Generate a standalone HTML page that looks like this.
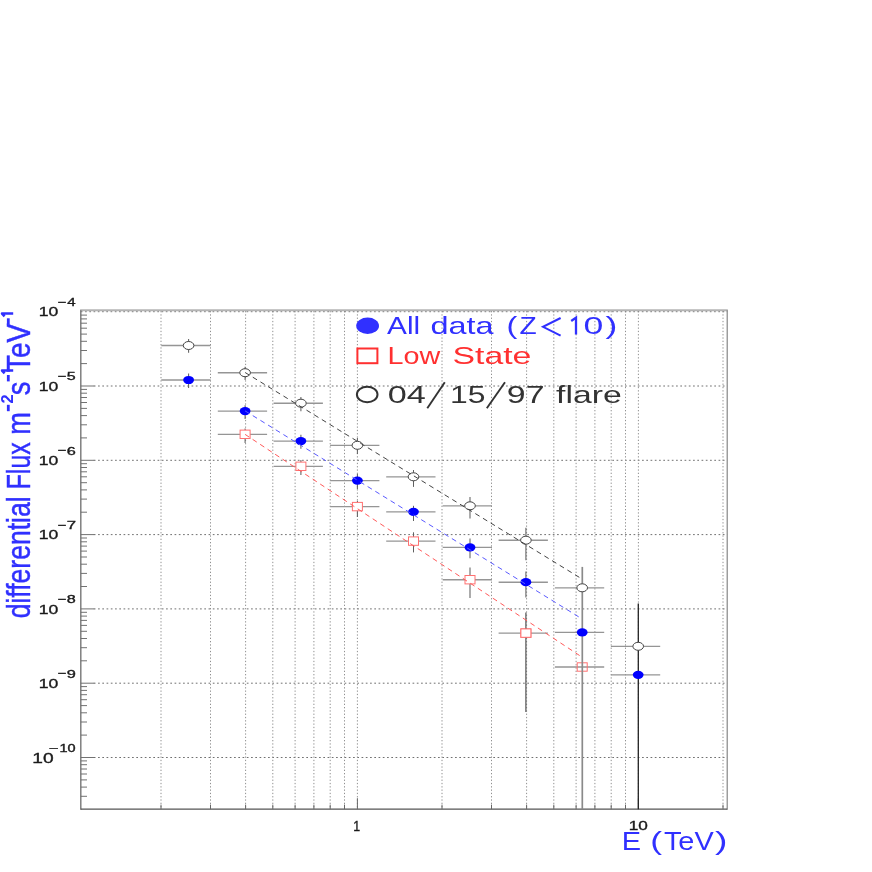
<!DOCTYPE html>
<html><head><meta charset="utf-8"><title>Differential Flux</title>
<style>
html,body{margin:0;padding:0;background:#fff;}
body{width:872px;height:872px;overflow:hidden;font-family:"Liberation Sans",sans-serif;}
svg{display:block;}
text{font-family:"Liberation Sans",sans-serif;}
</style></head><body>
<svg width="872" height="872" viewBox="0 0 872 872" style="will-change:transform">
<rect x="0" y="0" width="872" height="872" fill="#ffffff"/>

<g stroke="#606060" stroke-width="0.9" stroke-dasharray="1.7 2.55" fill="none">
<line x1="93.8" y1="386.0" x2="727.2" y2="386.0"/>
<line x1="93.8" y1="460.3" x2="727.2" y2="460.3"/>
<line x1="93.8" y1="534.6" x2="727.2" y2="534.6"/>
<line x1="93.8" y1="608.9" x2="727.2" y2="608.9"/>
<line x1="93.8" y1="683.2" x2="727.2" y2="683.2"/>
<line x1="93.8" y1="757.5" x2="727.2" y2="757.5"/>
</g>
<g stroke="#909090" stroke-width="1" stroke-dasharray="1.3 2" fill="none">
<line x1="161.0" y1="311.0" x2="161.0" y2="809.2"/>
<line x1="210.5" y1="311.0" x2="210.5" y2="809.2"/>
<line x1="245.6" y1="311.0" x2="245.6" y2="809.2"/>
<line x1="272.8" y1="311.0" x2="272.8" y2="809.2"/>
<line x1="295.1" y1="311.0" x2="295.1" y2="809.2"/>
<line x1="313.9" y1="311.0" x2="313.9" y2="809.2"/>
<line x1="330.2" y1="311.0" x2="330.2" y2="809.2"/>
<line x1="344.5" y1="311.0" x2="344.5" y2="809.2"/>
<line x1="357.4" y1="311.0" x2="357.4" y2="809.2"/>
<line x1="442.0" y1="311.0" x2="442.0" y2="809.2"/>
<line x1="491.5" y1="311.0" x2="491.5" y2="809.2"/>
<line x1="526.6" y1="311.0" x2="526.6" y2="809.2"/>
<line x1="553.8" y1="311.0" x2="553.8" y2="809.2"/>
<line x1="576.1" y1="311.0" x2="576.1" y2="809.2"/>
<line x1="594.9" y1="311.0" x2="594.9" y2="809.2"/>
<line x1="611.2" y1="311.0" x2="611.2" y2="809.2"/>
<line x1="625.5" y1="311.0" x2="625.5" y2="809.2"/>
<line x1="638.4" y1="311.0" x2="638.4" y2="809.2"/>
<line x1="723.0" y1="311.0" x2="723.0" y2="809.2"/>
</g>
<line x1="80.8" y1="311.7" x2="727.2" y2="311.7" stroke="#777" stroke-width="1" stroke-dasharray="1.7 2.55"/>
<g fill="none">
<line x1="80.1" y1="310.25" x2="727.8000000000001" y2="310.25" stroke="#b4b4b4" stroke-width="1.9"/>
<line x1="80.8" y1="310.2" x2="80.8" y2="809.8000000000001" stroke="#777" stroke-width="1.4"/>
<line x1="727.2" y1="310.2" x2="727.2" y2="809.8000000000001" stroke="#808080" stroke-width="1.15"/>
<line x1="80.8" y1="809.2" x2="727.2" y2="809.2" stroke="#555" stroke-width="1.3"/>
</g>
<g stroke="#6a6a6a" stroke-width="0.95" fill="none">
<line x1="80.8" y1="796.3" x2="87.0" y2="796.3"/>
<line x1="80.8" y1="787.1" x2="87.0" y2="787.1"/>
<line x1="80.8" y1="779.9" x2="87.0" y2="779.9"/>
<line x1="80.8" y1="774.0" x2="87.0" y2="774.0"/>
<line x1="80.8" y1="769.0" x2="87.0" y2="769.0"/>
<line x1="80.8" y1="764.7" x2="87.0" y2="764.7"/>
<line x1="80.8" y1="760.9" x2="87.0" y2="760.9"/>
<line x1="80.8" y1="757.5" x2="94.3" y2="757.5"/>
<line x1="80.8" y1="735.1" x2="87.0" y2="735.1"/>
<line x1="80.8" y1="722.0" x2="87.0" y2="722.0"/>
<line x1="80.8" y1="712.8" x2="87.0" y2="712.8"/>
<line x1="80.8" y1="705.6" x2="87.0" y2="705.6"/>
<line x1="80.8" y1="699.7" x2="87.0" y2="699.7"/>
<line x1="80.8" y1="694.7" x2="87.0" y2="694.7"/>
<line x1="80.8" y1="690.4" x2="87.0" y2="690.4"/>
<line x1="80.8" y1="686.6" x2="87.0" y2="686.6"/>
<line x1="80.8" y1="683.2" x2="94.3" y2="683.2"/>
<line x1="80.8" y1="660.8" x2="87.0" y2="660.8"/>
<line x1="80.8" y1="647.7" x2="87.0" y2="647.7"/>
<line x1="80.8" y1="638.5" x2="87.0" y2="638.5"/>
<line x1="80.8" y1="631.3" x2="87.0" y2="631.3"/>
<line x1="80.8" y1="625.4" x2="87.0" y2="625.4"/>
<line x1="80.8" y1="620.4" x2="87.0" y2="620.4"/>
<line x1="80.8" y1="616.1" x2="87.0" y2="616.1"/>
<line x1="80.8" y1="612.3" x2="87.0" y2="612.3"/>
<line x1="80.8" y1="608.9" x2="94.3" y2="608.9"/>
<line x1="80.8" y1="586.5" x2="87.0" y2="586.5"/>
<line x1="80.8" y1="573.4" x2="87.0" y2="573.4"/>
<line x1="80.8" y1="564.2" x2="87.0" y2="564.2"/>
<line x1="80.8" y1="557.0" x2="87.0" y2="557.0"/>
<line x1="80.8" y1="551.1" x2="87.0" y2="551.1"/>
<line x1="80.8" y1="546.1" x2="87.0" y2="546.1"/>
<line x1="80.8" y1="541.8" x2="87.0" y2="541.8"/>
<line x1="80.8" y1="538.0" x2="87.0" y2="538.0"/>
<line x1="80.8" y1="534.6" x2="94.3" y2="534.6"/>
<line x1="80.8" y1="512.2" x2="87.0" y2="512.2"/>
<line x1="80.8" y1="499.1" x2="87.0" y2="499.1"/>
<line x1="80.8" y1="489.9" x2="87.0" y2="489.9"/>
<line x1="80.8" y1="482.7" x2="87.0" y2="482.7"/>
<line x1="80.8" y1="476.8" x2="87.0" y2="476.8"/>
<line x1="80.8" y1="471.8" x2="87.0" y2="471.8"/>
<line x1="80.8" y1="467.5" x2="87.0" y2="467.5"/>
<line x1="80.8" y1="463.7" x2="87.0" y2="463.7"/>
<line x1="80.8" y1="460.3" x2="94.3" y2="460.3"/>
<line x1="80.8" y1="437.9" x2="87.0" y2="437.9"/>
<line x1="80.8" y1="424.8" x2="87.0" y2="424.8"/>
<line x1="80.8" y1="415.6" x2="87.0" y2="415.6"/>
<line x1="80.8" y1="408.4" x2="87.0" y2="408.4"/>
<line x1="80.8" y1="402.5" x2="87.0" y2="402.5"/>
<line x1="80.8" y1="397.5" x2="87.0" y2="397.5"/>
<line x1="80.8" y1="393.2" x2="87.0" y2="393.2"/>
<line x1="80.8" y1="389.4" x2="87.0" y2="389.4"/>
<line x1="80.8" y1="386.0" x2="94.3" y2="386.0"/>
<line x1="80.8" y1="363.6" x2="87.0" y2="363.6"/>
<line x1="80.8" y1="350.5" x2="87.0" y2="350.5"/>
<line x1="80.8" y1="341.3" x2="87.0" y2="341.3"/>
<line x1="80.8" y1="334.1" x2="87.0" y2="334.1"/>
<line x1="80.8" y1="328.2" x2="87.0" y2="328.2"/>
<line x1="80.8" y1="323.2" x2="87.0" y2="323.2"/>
<line x1="80.8" y1="318.9" x2="87.0" y2="318.9"/>
<line x1="80.8" y1="315.1" x2="87.0" y2="315.1"/>
</g>
<g stroke="#666" stroke-width="1" fill="none">
<line x1="161.0" y1="809.2" x2="161.0" y2="804.6"/>
<line x1="210.5" y1="809.2" x2="210.5" y2="804.6"/>
<line x1="245.6" y1="809.2" x2="245.6" y2="804.6"/>
<line x1="272.8" y1="809.2" x2="272.8" y2="804.6"/>
<line x1="295.1" y1="809.2" x2="295.1" y2="804.6"/>
<line x1="313.9" y1="809.2" x2="313.9" y2="804.6"/>
<line x1="330.2" y1="809.2" x2="330.2" y2="804.6"/>
<line x1="344.5" y1="809.2" x2="344.5" y2="804.6"/>
<line x1="357.4" y1="809.2" x2="357.4" y2="798.2"/>
<line x1="442.0" y1="809.2" x2="442.0" y2="804.6"/>
<line x1="491.5" y1="809.2" x2="491.5" y2="804.6"/>
<line x1="526.6" y1="809.2" x2="526.6" y2="804.6"/>
<line x1="553.8" y1="809.2" x2="553.8" y2="804.6"/>
<line x1="576.1" y1="809.2" x2="576.1" y2="804.6"/>
<line x1="594.9" y1="809.2" x2="594.9" y2="804.6"/>
<line x1="611.2" y1="809.2" x2="611.2" y2="804.6"/>
<line x1="625.5" y1="809.2" x2="625.5" y2="804.6"/>
<line x1="638.4" y1="809.2" x2="638.4" y2="798.2"/>
<line x1="723.0" y1="809.2" x2="723.0" y2="804.6"/>
</g>
<g fill="none">
<line x1="161.3" y1="345.5" x2="210.6" y2="345.5" stroke="#959595" stroke-width="1.35"/>
<line x1="188.6" y1="338.9" x2="188.6" y2="352.8" stroke="#606060" stroke-width="1.05"/>
<line x1="217.8" y1="372.7" x2="267.1" y2="372.7" stroke="#959595" stroke-width="1.35"/>
<line x1="245.1" y1="366.7" x2="245.1" y2="380.0" stroke="#606060" stroke-width="1.05"/>
<line x1="273.6" y1="403.2" x2="322.9" y2="403.2" stroke="#959595" stroke-width="1.35"/>
<line x1="300.9" y1="397.0" x2="300.9" y2="411.3" stroke="#606060" stroke-width="1.05"/>
<line x1="330.1" y1="445.3" x2="379.4" y2="445.3" stroke="#959595" stroke-width="1.35"/>
<line x1="357.4" y1="438.0" x2="357.4" y2="454.0" stroke="#606060" stroke-width="1.05"/>
<line x1="386.2" y1="476.8" x2="435.5" y2="476.8" stroke="#959595" stroke-width="1.35"/>
<line x1="413.5" y1="470.0" x2="413.5" y2="486.9" stroke="#606060" stroke-width="1.05"/>
<line x1="442.7" y1="505.8" x2="492.0" y2="505.8" stroke="#959595" stroke-width="1.35"/>
<line x1="470.0" y1="497.0" x2="470.0" y2="518.4" stroke="#606060" stroke-width="1.05"/>
<line x1="498.6" y1="540.2" x2="547.9" y2="540.2" stroke="#959595" stroke-width="1.35"/>
<line x1="525.9" y1="527.8" x2="525.9" y2="560.3" stroke="#606060" stroke-width="1.05"/>
<line x1="554.9" y1="587.8" x2="604.2" y2="587.8" stroke="#959595" stroke-width="1.35"/>
<line x1="610.9" y1="646.3" x2="660.2" y2="646.3" stroke="#959595" stroke-width="1.35"/>
<line x1="161.3" y1="380.0" x2="210.6" y2="380.0" stroke="#959595" stroke-width="1.35"/>
<line x1="188.6" y1="373.5" x2="188.6" y2="388.1" stroke="#606060" stroke-width="1.05"/>
<line x1="217.8" y1="411.1" x2="267.1" y2="411.1" stroke="#959595" stroke-width="1.35"/>
<line x1="245.1" y1="405.3" x2="245.1" y2="418.9" stroke="#606060" stroke-width="1.05"/>
<line x1="273.6" y1="441.1" x2="322.9" y2="441.1" stroke="#959595" stroke-width="1.35"/>
<line x1="300.9" y1="434.8" x2="300.9" y2="448.7" stroke="#606060" stroke-width="1.05"/>
<line x1="330.1" y1="480.6" x2="379.4" y2="480.6" stroke="#959595" stroke-width="1.35"/>
<line x1="357.4" y1="474.0" x2="357.4" y2="489.0" stroke="#606060" stroke-width="1.05"/>
<line x1="386.2" y1="511.8" x2="435.5" y2="511.8" stroke="#959595" stroke-width="1.35"/>
<line x1="413.5" y1="505.8" x2="413.5" y2="521.0" stroke="#606060" stroke-width="1.05"/>
<line x1="442.7" y1="547.4" x2="492.0" y2="547.4" stroke="#959595" stroke-width="1.35"/>
<line x1="470.0" y1="538.6" x2="470.0" y2="558.2" stroke="#606060" stroke-width="1.05"/>
<line x1="498.6" y1="582.2" x2="547.9" y2="582.2" stroke="#959595" stroke-width="1.35"/>
<line x1="525.9" y1="571.6" x2="525.9" y2="597.4" stroke="#606060" stroke-width="1.05"/>
<line x1="554.9" y1="632.4" x2="604.2" y2="632.4" stroke="#959595" stroke-width="1.35"/>
<line x1="610.9" y1="674.8" x2="660.2" y2="674.8" stroke="#959595" stroke-width="1.35"/>
<line x1="217.8" y1="434.3" x2="267.1" y2="434.3" stroke="#959595" stroke-width="1.35"/>
<line x1="245.1" y1="428.5" x2="245.1" y2="442.9" stroke="#606060" stroke-width="1.05"/>
<line x1="273.6" y1="466.3" x2="322.9" y2="466.3" stroke="#959595" stroke-width="1.35"/>
<line x1="300.9" y1="460.0" x2="300.9" y2="475.1" stroke="#606060" stroke-width="1.05"/>
<line x1="330.1" y1="506.6" x2="379.4" y2="506.6" stroke="#959595" stroke-width="1.35"/>
<line x1="357.4" y1="500.7" x2="357.4" y2="517.0" stroke="#606060" stroke-width="1.05"/>
<line x1="386.2" y1="541.1" x2="435.5" y2="541.1" stroke="#959595" stroke-width="1.35"/>
<line x1="413.5" y1="532.3" x2="413.5" y2="552.4" stroke="#606060" stroke-width="1.05"/>
<line x1="442.7" y1="579.7" x2="492.0" y2="579.7" stroke="#959595" stroke-width="1.35"/>
<line x1="470.0" y1="567.6" x2="470.0" y2="597.9" stroke="#606060" stroke-width="1.05"/>
<line x1="498.6" y1="633.1" x2="547.9" y2="633.1" stroke="#959595" stroke-width="1.35"/>
<line x1="554.9" y1="667.0" x2="604.2" y2="667.0" stroke="#959595" stroke-width="1.35"/>
</g>
<rect x="240.1" y="430.1" width="10" height="8.4" fill="#fff" stroke="#ff7070" stroke-width="1"/>
<rect x="295.9" y="462.1" width="10" height="8.4" fill="#fff" stroke="#ff7070" stroke-width="1"/>
<rect x="352.4" y="502.4" width="10" height="8.4" fill="#fff" stroke="#ff7070" stroke-width="1"/>
<rect x="408.5" y="536.9" width="10" height="8.4" fill="#fff" stroke="#ff7070" stroke-width="1"/>
<rect x="465.0" y="575.5" width="10" height="8.4" fill="#fff" stroke="#ff7070" stroke-width="1"/>
<rect x="520.9" y="628.9" width="10" height="8.4" fill="#fff" stroke="#ff7070" stroke-width="1"/>
<rect x="577.2" y="662.8" width="10" height="8.4" fill="none" stroke="#ff7070" stroke-width="1"/>
<line x1="582.3" y1="566.9" x2="582.3" y2="809.2" stroke="#8a8a8a" stroke-width="1.7"/>
<line x1="638.3" y1="603.4" x2="638.3" y2="809.2" stroke="#222" stroke-width="1.3"/>
<line x1="525.9" y1="612.5" x2="525.9" y2="711.9" stroke="#555" stroke-width="1.2"/>
<rect x="520.9" y="628.9" width="10" height="8.4" fill="#fff" stroke="#ff7070" stroke-width="1"/>
<ellipse cx="188.6" cy="345.5" rx="5.3" ry="4.0" fill="#fff" stroke="#444" stroke-width="1"/>
<ellipse cx="245.1" cy="372.7" rx="5.3" ry="4.0" fill="#fff" stroke="#444" stroke-width="1"/>
<ellipse cx="300.9" cy="403.2" rx="5.3" ry="4.0" fill="#fff" stroke="#444" stroke-width="1"/>
<ellipse cx="357.4" cy="445.3" rx="5.3" ry="4.0" fill="#fff" stroke="#444" stroke-width="1"/>
<ellipse cx="413.5" cy="476.8" rx="5.3" ry="4.0" fill="#fff" stroke="#444" stroke-width="1"/>
<ellipse cx="470.0" cy="505.8" rx="5.3" ry="4.0" fill="#fff" stroke="#444" stroke-width="1"/>
<ellipse cx="525.9" cy="540.2" rx="5.3" ry="4.0" fill="#fff" stroke="#444" stroke-width="1"/>
<ellipse cx="582.2" cy="587.8" rx="5.3" ry="4.0" fill="#fff" stroke="#444" stroke-width="1"/>
<ellipse cx="638.2" cy="646.3" rx="5.3" ry="4.0" fill="#fff" stroke="#444" stroke-width="1"/>
<ellipse cx="188.6" cy="380.0" rx="5.4" ry="4.1" fill="#0000ff"/>
<ellipse cx="245.1" cy="411.1" rx="5.4" ry="4.1" fill="#0000ff"/>
<ellipse cx="300.9" cy="441.1" rx="5.4" ry="4.1" fill="#0000ff"/>
<ellipse cx="357.4" cy="480.6" rx="5.4" ry="4.1" fill="#0000ff"/>
<ellipse cx="413.5" cy="511.8" rx="5.4" ry="4.1" fill="#0000ff"/>
<ellipse cx="470.0" cy="547.4" rx="5.4" ry="4.1" fill="#0000ff"/>
<ellipse cx="525.9" cy="582.2" rx="5.4" ry="4.1" fill="#0000ff"/>
<ellipse cx="582.2" cy="632.4" rx="5.4" ry="4.1" fill="#0000ff"/>
<ellipse cx="638.2" cy="674.8" rx="5.4" ry="4.1" fill="#0000ff"/>
<g fill="none" stroke-width="1" stroke-dasharray="5 4">
<line x1="245.1" y1="372.5" x2="580.9" y2="578.3" stroke="#444"/>
<line x1="245.1" y1="410.9" x2="580.9" y2="618.2" stroke="#5a5aff"/>
<line x1="245.1" y1="434.4" x2="580.9" y2="656.4" stroke="#ff5a5a"/>
</g>
<ellipse cx="367.6" cy="325.7" rx="11.4" ry="8.2" fill="#3030ff"/>
<rect x="357.4" y="348.5" width="20" height="14.7" fill="none" stroke="#ff3030" stroke-width="2"/>
<ellipse cx="367.2" cy="394.5" rx="10.3" ry="7.8" fill="none" stroke="#333" stroke-width="2"/>
<text transform="translate(387.00,334.20) scale(1.234,1)" font-size="24.20" fill="#3030ff">All</text>
<text transform="translate(430.40,334.20) scale(1.340,1)" font-size="24.20" fill="#3030ff">data</text>
<text transform="translate(506.45,334.20) scale(1.341,1)" font-size="24.20" fill="#3030ff">(</text>
<text transform="translate(519.55,334.20) scale(1.164,1)" font-size="24.20" fill="#3030ff">Z</text>
<polyline points="560.6,318.0 543.0,326.8 560.6,335.6" fill="none" stroke="#3030ff" stroke-width="2"/>
<polyline points="571.2,321.0 576.0,317.6 576.0,334.4" fill="none" stroke="#3030ff" stroke-width="2.3"/>
<text transform="translate(583.58,334.20) scale(1.472,1)" font-size="24.20" fill="#3030ff">0</text>
<text transform="translate(605.42,334.20) scale(1.466,1)" font-size="24.20" fill="#3030ff">)</text>
<text transform="translate(387.60,364.00) scale(1.187,1)" font-size="24.20" fill="#ff3030">Low</text>
<text transform="translate(452.48,364.00) scale(1.397,1)" font-size="24.20" fill="#ff3030">State</text>
<text transform="translate(387.83,402.50) scale(1.414,1)" font-size="24.20" fill="#333">04</text>
<text transform="translate(450.11,402.50) scale(1.316,1)" font-size="24.20" fill="#333">15</text>
<text transform="translate(506.87,402.50) scale(1.400,1)" font-size="24.20" fill="#333">97</text>
<text transform="translate(556.09,402.50) scale(1.394,1)" font-size="24.20" fill="#333">flare</text>
<line x1="427.3" y1="408.3" x2="444.8" y2="382.2" stroke="#333" stroke-width="1.9"/>
<line x1="486.8" y1="408.3" x2="505.0" y2="382.2" stroke="#333" stroke-width="1.9"/>
<text transform="translate(621.78,850.40) scale(1.130,1)" font-size="25.65" fill="#3030ff">E</text>
<text transform="translate(650.37,850.40) scale(1.383,1)" font-size="25.65" fill="#3030ff">(</text>
<text transform="translate(663.92,850.40) scale(1.127,1)" font-size="25.65" fill="#3030ff">TeV</text>
<text transform="translate(715.11,850.40) scale(1.456,1)" font-size="25.65" fill="#3030ff">)</text>
<text transform="translate(353.27,830.60) scale(0.896,1)" font-size="13.86" fill="#1a1a1a" stroke="#1a1a1a" stroke-width="0.35">1</text>
<text transform="translate(628.81,829.90) scale(1.309,1)" font-size="13.14" fill="#1a1a1a" stroke="#1a1a1a" stroke-width="0.35">10</text>
<text transform="translate(38.68,316.40) scale(1.283,1)" font-size="13.71" fill="#1a1a1a" stroke="#1a1a1a" stroke-width="0.35">10</text>
<text transform="translate(57.46,305.80) scale(1.367,1)" font-size="10.86" fill="#1a1a1a" stroke="#1a1a1a" stroke-width="0.35">−</text>
<text transform="translate(67.20,306.10) scale(1.386,1)" font-size="10.86" fill="#1a1a1a" stroke="#1a1a1a" stroke-width="0.35">4</text>
<text transform="translate(38.68,390.70) scale(1.283,1)" font-size="13.71" fill="#1a1a1a" stroke="#1a1a1a" stroke-width="0.35">10</text>
<text transform="translate(57.46,380.10) scale(1.367,1)" font-size="10.86" fill="#1a1a1a" stroke="#1a1a1a" stroke-width="0.35">−</text>
<text transform="translate(66.86,380.40) scale(1.474,1)" font-size="10.86" fill="#1a1a1a" stroke="#1a1a1a" stroke-width="0.35">5</text>
<text transform="translate(38.68,465.00) scale(1.283,1)" font-size="13.71" fill="#1a1a1a" stroke="#1a1a1a" stroke-width="0.35">10</text>
<text transform="translate(57.46,454.40) scale(1.367,1)" font-size="10.86" fill="#1a1a1a" stroke="#1a1a1a" stroke-width="0.35">−</text>
<text transform="translate(66.68,454.70) scale(1.505,1)" font-size="10.86" fill="#1a1a1a" stroke="#1a1a1a" stroke-width="0.35">6</text>
<text transform="translate(38.68,539.30) scale(1.283,1)" font-size="13.71" fill="#1a1a1a" stroke="#1a1a1a" stroke-width="0.35">10</text>
<text transform="translate(57.46,528.70) scale(1.367,1)" font-size="10.86" fill="#1a1a1a" stroke="#1a1a1a" stroke-width="0.35">−</text>
<text transform="translate(66.66,529.00) scale(1.538,1)" font-size="10.86" fill="#1a1a1a" stroke="#1a1a1a" stroke-width="0.35">7</text>
<text transform="translate(38.68,613.60) scale(1.283,1)" font-size="13.71" fill="#1a1a1a" stroke="#1a1a1a" stroke-width="0.35">10</text>
<text transform="translate(57.46,603.00) scale(1.367,1)" font-size="10.86" fill="#1a1a1a" stroke="#1a1a1a" stroke-width="0.35">−</text>
<text transform="translate(66.77,603.30) scale(1.489,1)" font-size="10.86" fill="#1a1a1a" stroke="#1a1a1a" stroke-width="0.35">8</text>
<text transform="translate(38.68,687.90) scale(1.283,1)" font-size="13.71" fill="#1a1a1a" stroke="#1a1a1a" stroke-width="0.35">10</text>
<text transform="translate(57.46,677.30) scale(1.367,1)" font-size="10.86" fill="#1a1a1a" stroke="#1a1a1a" stroke-width="0.35">−</text>
<text transform="translate(66.76,677.60) scale(1.505,1)" font-size="10.86" fill="#1a1a1a" stroke="#1a1a1a" stroke-width="0.35">9</text>
<text transform="translate(32.36,762.50) scale(1.386,1)" font-size="13.86" fill="#1a1a1a" stroke="#1a1a1a" stroke-width="0.35">10</text>
<text transform="translate(48.38,752.00) scale(1.560,1)" font-size="10.57" fill="#1a1a1a" stroke="#1a1a1a" stroke-width="0.35">−</text>
<text transform="translate(59.51,752.30) scale(1.372,1)" font-size="10.57" fill="#1a1a1a" stroke="#1a1a1a" stroke-width="0.35">10</text>
<text transform="translate(30.00,618.36) rotate(-90) scale(1.063,1.322)" font-size="25.0" fill="#3030ff" stroke="#3030ff" stroke-width="0.35">differential</text>
<text transform="translate(30.00,489.29) rotate(-90) scale(0.993,1.322)" font-size="25.0" fill="#3030ff" stroke="#3030ff" stroke-width="0.35">Flux</text>
<text transform="translate(30.00,434.77) rotate(-90) scale(1.089,1.322)" font-size="25.0" fill="#3030ff" stroke="#3030ff" stroke-width="0.35">m</text>
<text transform="translate(30.00,395.32) rotate(-90) scale(1.094,1.322)" font-size="25.0" fill="#3030ff" stroke="#3030ff" stroke-width="0.35">s</text>
<text transform="translate(30.00,372.16) rotate(-90) scale(1.126,1.322)" font-size="25.0" fill="#3030ff" stroke="#3030ff" stroke-width="0.35">TeV</text>
<text transform="translate(12.80,403.57) rotate(-90) scale(0.650,0.640)" font-size="25.0" fill="#3030ff" font-weight="bold">2</text>
<path d="M13.2 370.6 L2.0 370.6 L4.6 373.40000000000003" fill="none" stroke="#3030ff" stroke-width="2.5" stroke-linejoin="round"/>
<path d="M13.2 313.6 L2.0 313.6 L4.6 316.40000000000003" fill="none" stroke="#3030ff" stroke-width="2.5" stroke-linejoin="round"/>
<line x1="8.3" y1="411.2" x2="8.3" y2="404.8" stroke="#3030ff" stroke-width="2.8"/>
<line x1="8.3" y1="381.4" x2="8.3" y2="375.0" stroke="#3030ff" stroke-width="2.8"/>
<line x1="8.3" y1="324.7" x2="8.3" y2="318.3" stroke="#3030ff" stroke-width="2.8"/>
</svg></body></html>
